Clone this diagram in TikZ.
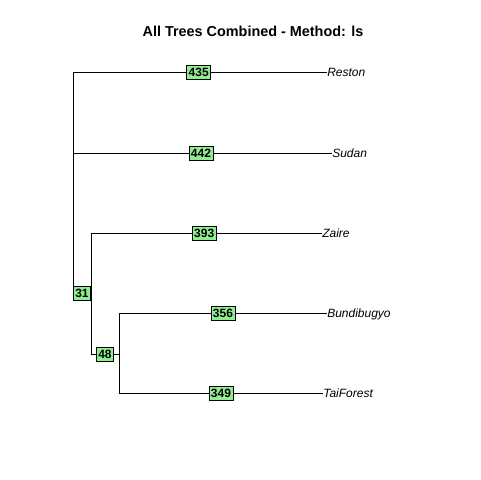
\documentclass[tikz,border=0pt]{standalone}
\usepackage{fontspec}
\setmainfont{Liberation Sans}
\definecolor{boxgreen}{HTML}{90EE90}
\begin{document}
\begin{tikzpicture}[x=0.75pt,y=-0.75pt,
  branch/.style={draw=black,line width=0.6pt},
  elab/.style={draw=black,fill=boxgreen,line width=0.5pt,font=\fontsize{9}{10}\selectfont\bfseries,inner xsep=1.5pt,inner ysep=0pt,minimum height=10.5pt,text height=6.5pt,text depth=0pt},
  tip/.style={anchor=west,inner sep=0pt,text height=6.4pt,text depth=0pt,font=\fontsize{9}{10}\selectfont\itshape}]
\useasboundingbox (0,0) rectangle (480,480);
\node[font=\fontsize{10.8}{12}\selectfont\bfseries] (title) at (253,31) {All Trees Combined - Method: ls};
% tree nodes
\coordinate (root) at (73,293);
\coordinate (rtop) at (73,72);
\coordinate (rsud) at (73,153);
\coordinate (n1) at (91,293);
\coordinate (n1top) at (91,233);
\coordinate (n1bot) at (91,354);
\coordinate (n2) at (119,354);
\coordinate (n2top) at (119,313);
\coordinate (n2bot) at (119,393);
% tips
\node[tip] (reston) at (327,72) {Reston};
\node[tip] (sudan) at (332,153) {Sudan};
\node[tip] (zaire) at (322,233) {Zaire};
\node[tip] (bundi) at (327,313) {Bundibugyo};
\node[tip] (tai) at (323,393) {TaiForest};
% vertical lines
\draw[branch] (rtop) -- (root);
\draw[branch] (n1top) -- (n1bot);
\draw[branch] (n2top) -- (n2bot);
% horizontal edges with labels
\draw[branch] (rtop) -- (reston.west) node[elab,pos=0.495] (e435) {435};
\draw[branch] (rsud) -- (sudan.west) node[elab,pos=0.494] (e442) {442};
\draw[branch] (n1top) -- (zaire.west) node[elab,pos=0.49] (e393) {393};
\draw[branch] (n2top) -- (bundi.west) node[elab,pos=0.5] (e356) {356};
\draw[branch] (n2bot) -- (tai.west) node[elab,pos=0.5] (e349) {349};
\draw[branch] (root) -- (n1) node[elab,midway] (e31) {31};
\draw[branch] (n1bot) -- (n2) node[elab,midway] (e48) {48};
\end{tikzpicture}
\end{document}
